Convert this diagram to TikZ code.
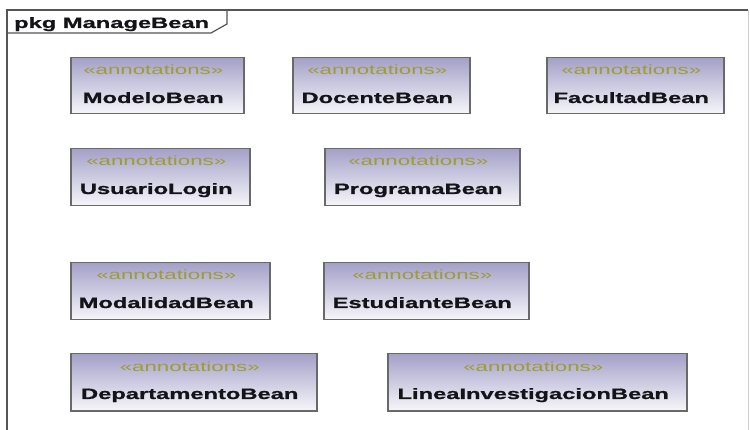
\documentclass[tikz,border=0pt]{standalone}
\usepackage{fontspec}
\usepackage{graphicx}
\setmainfont{Liberation Sans}
\newfontfamily\heavyfont[FakeBold=0.8]{Liberation Sans Bold}
\usetikzlibrary{calc,shadings}

\definecolor{framegray}{RGB}{85,85,85}
\definecolor{edgegray}{RGB}{205,205,205}
\definecolor{boxedge}{RGB}{105,105,105}
\definecolor{boxtop}{RGB}{164,160,200}
\definecolor{boxbottom}{RGB}{246,246,250}
\definecolor{stereo}{RGB}{158,156,52}
\definecolor{nametext}{RGB}{20,20,24}

\newcommand{\stereotxt}[1]{\scalebox{1.65}[1]{\fontsize{13.5}{16}\selectfont #1}}
\newcommand{\nametxt}[1]{\scalebox{1.58}[1]{\fontsize{15}{18}\selectfont\heavyfont #1}}

\tikzset{
  bean/.style={draw=boxedge, line width=1.5pt, top color=boxtop, bottom color=boxbottom,
    rectangle, inner sep=0pt, anchor=north west},
  stlabel/.style={anchor=base, inner sep=0pt, text=stereo},
  nmlabel/.style={anchor=base, inner sep=0pt, text=nametext},
  frameline/.style={draw=framegray, line width=1.6pt},
}

% bean box: name, left, top, right, bottom, class name
\newcommand{\beanbox}[6]{%
  \node[bean, minimum width=#4-#2, minimum height=#5-#3] (#1) at (#2,#3) {};
  \node[stlabel] (#1-st) at ($(#1.north)+(-4,18)$) {\stereotxt{«annotations»}};
  \node[nmlabel] (#1-nm) at ($(#1.north)+(-4,46)$) {\nametxt{#6}};
}

\begin{document}
\begin{tikzpicture}[x=1pt,y=-1pt]
  \useasboundingbox (0,0) rectangle (750,430);
  \fill[white] (0,0) rectangle (750,430);

  % package frame
  \draw[draw=edgegray, line width=1pt] (748,10) -- (748,430);
  \draw[frameline] (7,430) -- (7,10) -- (748,10);
  \draw[frameline, line width=1.2pt] (7,33) -- (211,33) -- (227,24) -- (227,10);
  \node[anchor=base west, inner sep=0pt, text=nametext] (title) at (14,28) {\nametxt{pkg ManageBean}};

  % annotated beans
  \beanbox{modelo}{70}{57}{243}{113}{ModeloBean}
  \beanbox{docente}{292}{57}{469}{113}{DocenteBean}
  \beanbox{facultad}{546}{57}{723}{113}{FacultadBean}
  \beanbox{usuario}{70}{148}{249}{205}{UsuarioLogin}
  \beanbox{programa}{324}{148}{519}{205}{ProgramaBean}
  \beanbox{modalidad}{70}{262}{269}{319}{ModalidadBean}
  \beanbox{estudiante}{323}{262}{528}{319}{EstudianteBean}
  \beanbox{departamento}{70}{353}{316}{410}{DepartamentoBean}
  \beanbox{linea}{387}{353}{686}{410}{LineaInvestigacionBean}
\end{tikzpicture}
\end{document}
